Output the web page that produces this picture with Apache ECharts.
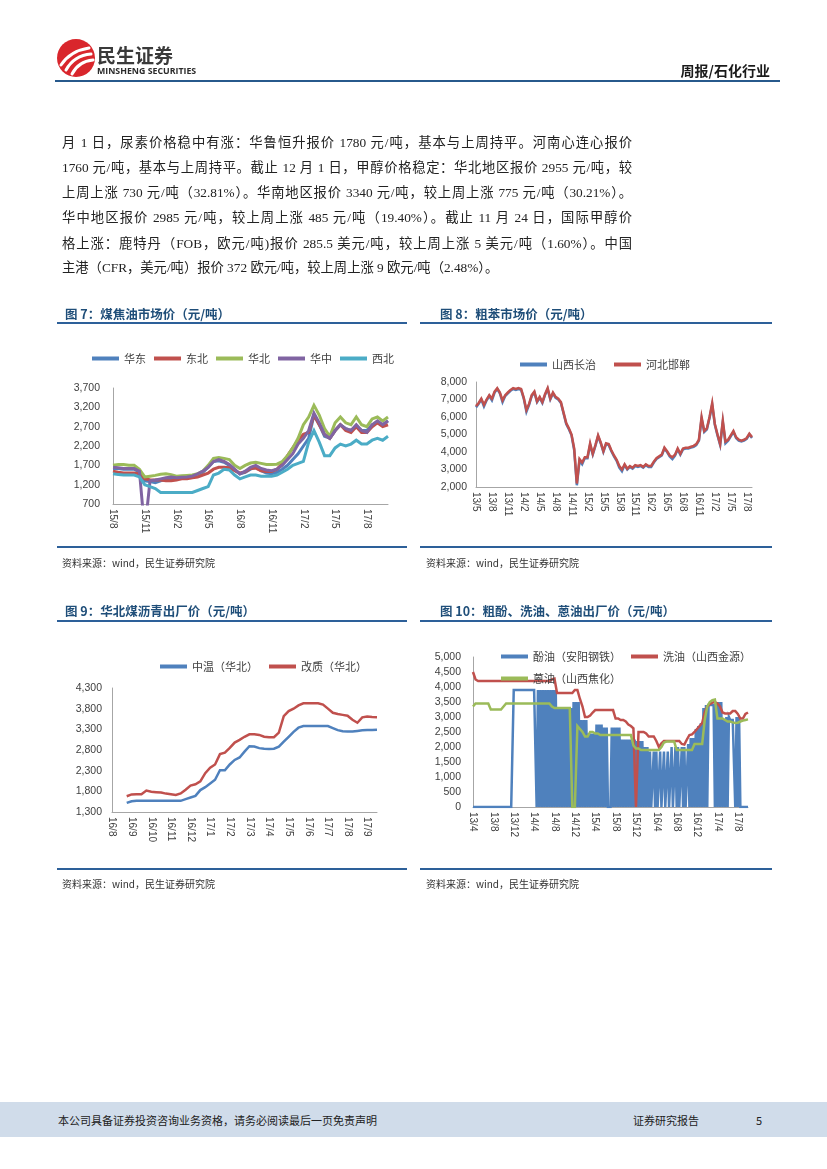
<!DOCTYPE html>
<html><head><meta charset="utf-8">
<script src="https://cdn.jsdelivr.net/npm/echarts@6.0.0/dist/echarts.min.js"></script>
<style>
html,body{margin:0;padding:0;background:#fff;}
#page{position:relative;width:827px;height:1169px;overflow:hidden;background:#fff;font-family:"Noto Sans CJK SC",sans-serif;}
#chart{position:absolute;left:0;top:0;width:827px;height:1169px;}
.a{position:absolute;white-space:nowrap;}
.p{position:absolute;left:62px;width:570px;font-family:"Liberation Serif","Noto Sans CJK SC",serif;font-size:13.3px;line-height:20px;height:20px;color:#222;text-align:justify;text-align-last:justify;}
.p.last{text-align-last:left;}
.ttl{position:absolute;font-size:12.5px;font-weight:bold;color:#1f4e79;white-space:nowrap;line-height:16px;}
.rule{position:absolute;background:#2d6099;}
.src{position:absolute;font-size:10px;color:#333;white-space:nowrap;line-height:12px;}
</style></head>
<body><div id="page">
<div id="chart"></div>

<svg class="a" style="left:56px;top:38px" width="40" height="40" viewBox="0 0 40 40">
<circle cx="20" cy="20" r="19" fill="#d9262c"/>
<path d="M5 27 C11 18 20 12 33 10" stroke="#fff" stroke-width="3" fill="none" stroke-linecap="round"/>
<path d="M10 32 C15 23 23 17 35 16" stroke="#fff" stroke-width="3" fill="none" stroke-linecap="round"/>
<path d="M16 36 C20 28 27 23 37 22" stroke="#fff" stroke-width="3" fill="none" stroke-linecap="round"/>
</svg>
<div class="a" style="left:97px;top:43px;font-size:19px;font-weight:bold;color:#3a3a3a;line-height:24px;">民生证券</div>
<div class="a" style="left:97px;top:66px;font-size:8.8px;font-weight:bold;color:#2b2b2b;line-height:10px;font-family:'Open Sans','Liberation Sans',sans-serif;">MINSHENG SECURITIES</div>
<div class="a" style="right:57px;top:61px;font-size:14px;font-weight:bold;color:#1a1a1a;line-height:18px;">周报/石化行业</div>
<div class="rule" style="left:55px;top:80px;width:725px;height:2px;background:#27598c;"></div>

<div class="p" style="top:133px;">月 1 日，尿素价格稳中有涨：华鲁恒升报价 1780 元/吨，基本与上周持平。河南心连心报价</div>
<div class="p" style="top:158px;">1760 元/吨，基本与上周持平。截止 12 月 1 日，甲醇价格稳定：华北地区报价 2955 元/吨，较</div>
<div class="p" style="top:183px;">上周上涨 730 元/吨（32.81%）。华南地区报价 3340 元/吨，较上周上涨 775 元/吨（30.21%）。</div>
<div class="p" style="top:208px;">华中地区报价 2985 元/吨，较上周上涨 485 元/吨（19.40%）。截止 11 月 24 日，国际甲醇价</div>
<div class="p" style="top:234px;">格上涨：鹿特丹（FOB，欧元/吨)报价 285.5 美元/吨，较上周上涨 5 美元/吨（1.60%）。中国</div>
<div class="p last" style="top:258px;">主港（CFR，美元/吨）报价 372 欧元/吨，较上周上涨 9 欧元/吨（2.48%）。</div>

<div class="ttl" style="left:65px;top:306px;">图 7：煤焦油市场价（元/吨）</div>
<div class="rule" style="left:57px;top:322px;width:350px;height:2px;"></div>
<div class="rule" style="left:57px;top:546px;width:350px;height:1.5px;"></div>
<div class="src" style="left:62px;top:557px;">资料来源：wind，民生证券研究院</div>

<div class="ttl" style="left:440px;top:306px;">图 8：粗苯市场价（元/吨）</div>
<div class="rule" style="left:420px;top:322px;width:352px;height:2px;"></div>
<div class="rule" style="left:420px;top:546px;width:352px;height:1.5px;"></div>
<div class="src" style="left:426px;top:557px;">资料来源：wind，民生证券研究院</div>

<div class="ttl" style="left:65px;top:603px;">图 9：华北煤沥青出厂价（元/吨）</div>
<div class="rule" style="left:57px;top:620px;width:350px;height:2px;"></div>
<div class="rule" style="left:57px;top:868px;width:350px;height:1.5px;"></div>
<div class="src" style="left:62px;top:878px;">资料来源：wind，民生证券研究院</div>

<div class="ttl" style="left:440px;top:603px;">图 10：粗酚、洗油、蒽油出厂价（元/吨）</div>
<div class="rule" style="left:420px;top:620px;width:352px;height:2px;"></div>
<div class="rule" style="left:420px;top:868px;width:352px;height:1.5px;"></div>
<div class="src" style="left:426px;top:878px;">资料来源：wind，民生证券研究院</div>

<div class="a" style="left:0;top:1102px;width:827px;height:35px;background:#d0dcea;"></div>
<div class="a" style="left:58px;top:1112px;font-size:11px;color:#222;line-height:16px;">本公司具备证券投资咨询业务资格，请务必阅读最后一页免责声明</div>
<div class="a" style="left:633px;top:1112px;font-size:11px;color:#222;line-height:16px;">证券研究报告</div>
<div class="a" style="left:756px;top:1112px;font-size:11px;color:#222;line-height:16px;">5</div>
</div>
<script>
// ---------- Chart 7: 煤焦油市场价 (half-monthly, 15/8 - 17/10) ----------
const c7Ticks = ['15/8','15/11','16/2','16/5','16/8','16/11','17/2','17/5','17/8'];
const c7Names = ['华东','东北','华北','华中','西北'];
const c7HuaDong = [1620,1620,1600,1600,1600,1520,1300,1280,1250,1300,1330,1350,1360,1380,1400,1420,1450,1520,1650,1800,1820,1780,1700,1580,1480,1520,1600,1650,1560,1500,1480,1520,1600,1700,1850,2000,2200,2400,3000,2750,2450,2400,2600,2750,2650,2600,2700,2600,2600,2750,2800,2750,2850];
const c7DongBei = [1550,1520,1500,1500,1500,1480,1350,1330,1320,1320,1300,1300,1320,1350,1350,1380,1400,1450,1500,1600,1650,1650,1640,1560,1500,1530,1620,1630,1560,1540,1540,1600,1750,1950,2150,2350,2500,2550,3000,2750,2500,2400,2600,2750,2600,2550,2700,2550,2550,2700,2800,2700,2750];
const c7HuaBei = [1700,1720,1720,1700,1700,1600,1400,1420,1440,1470,1480,1460,1420,1430,1440,1450,1480,1550,1700,1880,1900,1880,1850,1700,1620,1700,1760,1780,1750,1720,1720,1730,1800,1950,2150,2400,2750,2950,3250,3000,2650,2450,2800,2950,2800,2750,2950,2750,2700,2900,2950,2850,2950];
const c7HuaZhong = [1650,1640,1620,1620,1620,1550,0,1300,1320,1350,1380,1400,1380,1390,1400,1420,1480,1550,1650,1800,1850,1800,1720,1600,1480,1550,1650,1700,1620,1580,1560,1600,1700,1850,2000,2250,2400,2600,3050,2800,2500,2400,2600,2750,2650,2600,2750,2600,2550,2750,2850,2750,2850];
const c7XiBei = [1480,1460,1450,1450,1450,1400,1200,1150,1100,1000,1000,1000,1000,1000,1000,1000,1050,1100,1150,1450,1500,1600,1580,1450,1350,1400,1450,1450,1420,1420,1420,1450,1520,1600,1700,1750,1800,2300,2600,2300,1950,1950,2150,2250,2200,2250,2350,2250,2250,2350,2400,2350,2450];

// ---------- Chart 8: 粗苯市场价 (half-monthly, 13/5 - 17/9) ----------
const c8Ticks = ['13/5','13/8','13/11','14/2','14/5','14/8','14/11','15/2','15/5','15/8','15/11','16/2','16/5','16/8','16/11','17/2','17/5','17/8'];
const c8Names = ['山西长治','河北邯郸'];
const c8ShanXi = [6550,6750,7000,6600,6950,7200,6950,7400,7600,7350,6850,7200,7350,7500,7600,7550,7600,7550,7050,6300,6700,7200,7400,6850,7100,6800,7250,7600,7000,7350,7100,7000,6800,6200,5600,5300,4950,4100,2100,3500,3300,3650,3650,4400,3850,4350,4900,4500,4000,4450,4400,4050,3750,3500,3100,2900,3250,3000,3150,3050,3200,3150,3200,3100,3250,3150,3150,3400,3600,3700,3800,4200,4000,3750,3600,3800,4150,3850,4150,4200,4200,4250,4300,4400,4650,5900,5150,5300,5950,6700,5550,4950,4400,5700,4500,4650,4900,5150,4800,4650,4600,4650,4750,5000,4800];
const c8HeBei = [6620,6800,7050,6700,7000,7250,7050,7450,7650,7400,6950,7250,7400,7550,7650,7600,7650,7600,7100,6400,6750,7250,7450,6900,7150,6850,7300,7650,7050,7400,7150,7050,6850,6250,5650,5350,5000,4200,2200,3600,3400,3700,3700,4500,3900,4400,4950,4550,4050,4500,4450,4100,3800,3550,3200,3000,3300,3050,3200,3100,3250,3200,3250,3150,3300,3200,3200,3450,3650,3750,3850,4250,4050,3800,3700,3850,4200,3900,4200,4250,4250,4300,4350,4450,4700,6000,5200,5350,6000,6800,5600,5000,4450,5800,4600,4700,4950,5200,4850,4700,4650,4700,4800,5050,4850];

// ---------- Chart 9: 华北煤沥青出厂价 (weekly, 16/8 - 17/9) ----------
const c9Ticks = ['16/8','16/9','16/10','16/11','16/12','17/1','17/2','17/3','17/4','17/5','17/6','17/7','17/8','17/9'];
const c9Names = ['中温（华北）','改质（华北）'];
const c9ZhongWen = [null,null,null,1520,1560,1570,1570,1570,1570,1570,1570,1570,1570,1570,1570,1610,1650,1690,1830,1900,1990,2080,2310,2310,2450,2560,2620,2760,2890,2885,2845,2830,2825,2830,2880,3000,3120,3240,3340,3380,3380,3380,3380,3380,3380,3330,3280,3255,3245,3245,3260,3275,3285,3285,3290];
const c9GaiZhi = [null,null,null,1680,1725,1730,1730,1820,1790,1780,1770,1745,1730,1710,1750,1840,1940,1970,2040,2240,2370,2450,2700,2735,2850,2980,3045,3120,3180,3180,3165,3120,3110,3110,3220,3620,3740,3800,3880,3930,3930,3930,3930,3900,3800,3700,3670,3650,3630,3530,3460,3590,3610,3600,3595];

// ---------- Chart 10: 粗酚、洗油、蒽油出厂价 (13/4 - 17/10) ----------
const c10Ticks = ['13/4','13/8','13/12','14/4','14/8','14/12','15/4','15/8','15/12','16/4','16/8','16/12','17/4','17/8'];
const c10Names = ['酚油（安阳钢铁）','洗油（山西金源）','蒽油（山西焦化）'];
// 酚油: weekly (4 per month), many weeks reported as 0
const c10FenYou = [
 0,0,0,0,0,0,0,0,0,0,0,0,0,0,0,0,0,0,0,0,0,0,0,0,0,0,0,0,0,0,0,0,
 3900,3900,3900,3900,3900,3900,3900,3900,3900,3900,3900,3900,3900,3900,3900,3900,3900,3900,
 0,3900,0,3900,0,3900,0,3900,0,3900,0,3900,0,3900,0,3900,
 0,3300,0,3300,0,3300,0,3300,0,3300,0,3300,
 0,3500,0,3500,0,3500,
 0,2900,0,2900,0,2900,
 0,2450,0,2450,0,2450,
 0,2750,0,2750,0,2750,
 0,2650,0,2650,
 0,0,
 0,2650,0,2650,0,2650,0,2650,
 0,2250,0,2250,0,2250,0,2250,0,2250,0,2250,
 0,2200,0,2200,0,2200,
 0,2000,0,2000,
 0,1850,0,0,1850,0,1850,0,
 0,1850,0,0,1850,0,0,1850,
 0,0,2000,0,0,2000,0,2000,0,0,2000,0,2000,0,
 0,2100,0,2300,0,2300,
 0,2600,0,2700,0,2800,
 0,3300,0,3400,0,3400,
 3400,3400,3400,3400,
 0,3500,0,3500,0,3500,
 0,2900,0,3000,0,3000,
 2900,2900,2900,2900,
 0,3000,0,3000,
 0,0,0,0,0,0,0];
// 洗油, 蒽油: half-monthly
const c10XiYou = [4500,4250,4200,4200,4200,4200,4200,4200,4200,4200,4200,4200,4200,4200,4200,4200,4200,4200,4200,4200,4200,4200,4200,4200,4200,4200,4200,4200,4200,4200,4200,4250,4280,3800,3800,3800,3800,3800,3800,3800,3900,3900,3600,3350,3000,3000,3050,3150,3230,3230,3230,3230,3230,3230,3230,3230,2950,2950,2900,2900,2850,2750,2700,2620,0,2500,2500,2500,2450,2350,2350,2350,2200,2000,2120,2200,2200,2200,2200,2200,2200,2200,2100,2080,2250,2400,2420,2500,2600,2700,2800,3150,3350,3430,3480,3500,3450,3350,3150,3120,3120,3120,3200,3200,3100,2950,2950,3100,3150];
const c10EnYou = [3350,3450,3450,3450,3450,3450,3450,3250,3250,3250,3250,3250,3350,3450,3450,3450,3450,3450,3450,3450,3450,3450,3450,3450,3450,3450,3450,3450,3450,3450,3450,3350,3300,3300,3300,3300,3300,3300,3300,0,0,2700,2600,2500,2350,2350,2500,2500,2450,2450,2400,2400,2400,2400,2400,2400,2400,2400,2400,2400,2400,2400,2400,2050,1950,1950,1900,1900,1900,1900,1900,1900,1900,1900,2000,2150,2180,2180,2180,2180,1900,1900,1900,1900,1900,1900,1900,2100,2100,2100,2100,2900,3350,3500,3560,3580,2950,2950,2950,2900,2850,2850,2820,2800,2810,2850,2880,2900,2920];

const BLUE='#4f81bd', RED='#c0504d', GREEN='#9bbb59', PURPLE='#8064a2', CYAN='#4bacc6';
const AXIS='#a6a6a6', LBL='#404040';

function xCat(gi, n, step, ticks, hidden){
  const ax = {type:'category', gridIndex:gi, boundaryGap:false,
    data:Array.from({length:n},(_,i)=>String(i)),
    axisLine:{show:true,lineStyle:{color:AXIS,width:1}}, axisTick:{show:false}, splitLine:{show:false},
    axisLabel:{interval:(i)=>i%step===0, formatter:(v,i)=>ticks[i/step]||'', rotate:-90, fontSize:10,
      color:LBL, margin:5, fontFamily:'Liberation Sans'}};
  if (hidden) { ax.show = false; }
  return ax;
}
function yVal(gi, min, max, interval, margin){
  return {type:'value', gridIndex:gi, min:min, max:max, interval:interval,
    axisLine:{show:true,lineStyle:{color:AXIS,width:1}}, axisTick:{show:false}, splitLine:{show:false},
    axisLabel:{formatter:(v)=>v.toLocaleString('en-US'), fontSize:10.5, color:LBL, margin:margin, fontFamily:'Liberation Sans'}};
}
function line(name, xi, yi, data, color, width){
  return {type:'line', name:name, xAxisIndex:xi, yAxisIndex:yi, data:data, symbol:'none', showSymbol:false,
    lineStyle:{color:color,width:width,join:'miter'}, itemStyle:{color:color}, clip:true, emphasis:{disabled:true}};
}
function legend(left, top, gap, names){
  return {left:left, top:top, itemGap:gap, itemWidth:27, itemHeight:4, icon:'rect', padding:0,
    selectedMode:false, data:names,
    textStyle:{fontSize:11, color:LBL, fontFamily:'Noto Sans CJK SC'}};
}

const chart = echarts.init(document.getElementById('chart'));
chart.setOption({
  animation:false,
  grid:[
    {left:113, top:388, width:275, height:116, outerBoundsMode:'none'},
    {left:476, top:382, width:276, height:105, outerBoundsMode:'none'},
    {left:112, top:688, width:265, height:124, outerBoundsMode:'none'},
    {left:473, top:657, width:275, height:150, outerBoundsMode:'none'}
  ],
  xAxis:[
    xCat(0, c7HuaDong.length, 6, c7Ticks),
    xCat(1, c8HeBei.length, 6, c8Ticks),
    xCat(2, c9GaiZhi.length, 4, c9Ticks),
    xCat(3, c10XiYou.length, 8, c10Ticks),
    xCat(3, c10FenYou.length, 16, c10Ticks, true)
  ],
  yAxis:[
    yVal(0, 700, 3700, 500, 13),
    yVal(1, 2000, 8000, 1000, 9),
    yVal(2, 1300, 4300, 500, 10),
    yVal(3, 0, 5000, 500, 12)
  ],
  legend:[
    legend(92, 353, 8, c7Names),
    legend(520, 359, 18, c8Names),
    legend(160, 661, 11, c9Names),
    legend(501, 651, 10, [c10Names[0], c10Names[1]]),
    legend(501, 673, 10, [c10Names[2]])
  ],
  series:[
    line(c7Names[0], 0, 0, c7HuaDong, BLUE, 3),
    line(c7Names[1], 0, 0, c7DongBei, RED, 3),
    line(c7Names[2], 0, 0, c7HuaBei, GREEN, 3),
    line(c7Names[3], 0, 0, c7HuaZhong, PURPLE, 3),
    line(c7Names[4], 0, 0, c7XiBei, CYAN, 3),
    line(c8Names[0], 1, 1, c8ShanXi, BLUE, 2.5),
    line(c8Names[1], 1, 1, c8HeBei, RED, 2.5),
    line(c9Names[0], 2, 2, c9ZhongWen, BLUE, 2.5),
    line(c9Names[1], 2, 2, c9GaiZhi, RED, 2.5),
    line(c10Names[0], 4, 3, c10FenYou, BLUE, 2.5),
    line(c10Names[1], 3, 3, c10XiYou, RED, 2.5),
    line(c10Names[2], 3, 3, c10EnYou, GREEN, 2.5)
  ]
});
</script>
</body></html>
